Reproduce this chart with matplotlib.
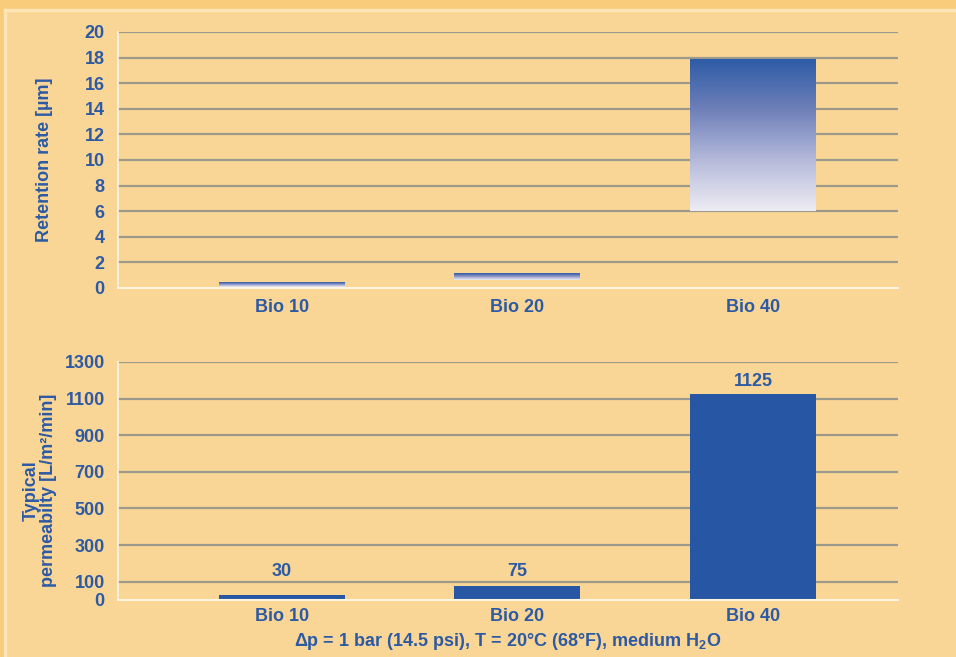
import numpy as np
import matplotlib
matplotlib.use("Agg")
import matplotlib.pyplot as plt
from matplotlib.colors import LinearSegmentedColormap
from matplotlib.patches import Rectangle

# ---- data ----
categories = ["Bio 10", "Bio 20", "Bio 40"]
retention_low = [0.1, 0.6, 6.0]
retention_high = [0.45, 1.1, 17.8]
permeability = [30, 75, 1125]
top_ticks = [0, 2, 4, 6, 8, 10, 12, 14, 16, 18, 20]
bottom_ticks = [0, 100, 300, 500, 700, 900, 1100, 1300]

BG = "#FAD696"
BLUE = "#2C5AA4"
BAR = "#2756A4"
GRID = "#9C9A8C"
SPINE = "#FFF6E2"

plt.rcParams["font.family"] = ["Liberation Sans", "DejaVu Sans"]
plt.rcParams["font.weight"] = "bold"
plt.rcParams["axes.labelweight"] = "bold"

fig = plt.figure(figsize=(9.56, 6.57), dpi=100, facecolor=BG)
# frame bands
fig.patches.append(Rectangle((0, 1 - 9 / 657), 1, 9 / 657, transform=fig.transFigure,
                             color="#F9CC7B", zorder=0))
fig.patches.append(Rectangle((0, 0), 4 / 956, 1, transform=fig.transFigure,
                             color="#F9CC7B", zorder=0))
fig.patches.append(Rectangle((4 / 956, 1 - 11 / 657), 1, 2 / 657, transform=fig.transFigure,
                             color="#FDE5B5", zorder=0))
fig.patches.append(Rectangle((4 / 956, 0), 2 / 956, 1 - 9 / 657, transform=fig.transFigure,
                             color="#FDE5B5", zorder=0))

x = np.arange(len(categories))
w = 0.535
xlim = (-0.696, 2.616)

cmap = LinearSegmentedColormap.from_list(
    "grad", ["#EEECF3", "#B5BADB", "#6F80B9", "#2E5CA6"])


def style_axes(ax):
    ax.set_facecolor("none")
    for s in ["top", "right"]:
        ax.spines[s].set_visible(False)
    ax.spines["left"].set_color(SPINE)
    ax.spines["bottom"].set_color(SPINE)
    ax.spines["left"].set_linewidth(1.2)
    ax.spines["bottom"].set_linewidth(1.5)
    ax.tick_params(length=0, colors=BLUE, labelsize=13)
    ax.tick_params(axis="y", pad=9.5)
    ax.set_xlim(*xlim)
    ax.set_xticks(x)
    ax.set_xticklabels(categories)


# ---- top chart ----
ax1 = fig.add_axes([118 / 956, 1 - 288 / 657, 780 / 956, 256 / 657])
style_axes(ax1)
ax1.set_ylim(0, 20)
ax1.set_yticks(top_ticks)
ax1.set_yticklabels([str(t) for t in top_ticks], fontsize=13)
for t in top_ticks[1:]:
    ax1.axhline(t, color=GRID, lw=1.6, zorder=1)
grad = np.linspace(0, 1, 256).reshape(-1, 1)
for xi, lo, hi in zip(x, retention_low, retention_high):
    ax1.imshow(grad, cmap=cmap, origin="lower", aspect="auto",
               extent=[xi - w / 2, xi + w / 2, lo, hi], zorder=2, interpolation="bilinear")
ax1.set_xlim(*xlim)
ax1.set_ylim(0, 20)
ax1.tick_params(axis="x", pad=8)
ax1.set_ylabel("Retention rate [µm]", color=BLUE, fontsize=13)
ax1.yaxis.set_label_coords(-0.083, 0.5)

# ---- bottom chart ----
ax2 = fig.add_axes([118 / 956, 1 - 600 / 657, 780 / 956, 238 / 657])
style_axes(ax2)
ax2.set_ylim(0, 1300)
ax2.set_yticks(bottom_ticks)
ax2.set_yticklabels([str(t) for t in bottom_ticks], fontsize=13)
for t in bottom_ticks[1:]:
    ax2.axhline(t, color=GRID, lw=1.6, zorder=1)
ax2.bar(x, permeability, width=w, color=BAR, zorder=2)
for xi, v in zip(x, permeability):
    ax2.text(xi, max(v, 85) + 70, str(v), ha="center", va="center",
             color=BLUE, fontsize=13)
ax2.tick_params(axis="x", pad=6)
ax2.set_ylabel("Typical\npermeabilty [L/m²/min]", color=BLUE, fontsize=13,
               linespacing=1.05, multialignment="center")
ax2.yaxis.set_label_coords(-0.078, 0.46)

fig.text(508 / 956, 1 - 641 / 657,
         r"Δp = 1 bar (14.5 psi), T = 20°C (68°F), medium H$_\mathregular{2}$O",
         ha="center", va="center", color=BLUE, fontsize=13)

fig.savefig("out.png", dpi=100, facecolor=BG)
